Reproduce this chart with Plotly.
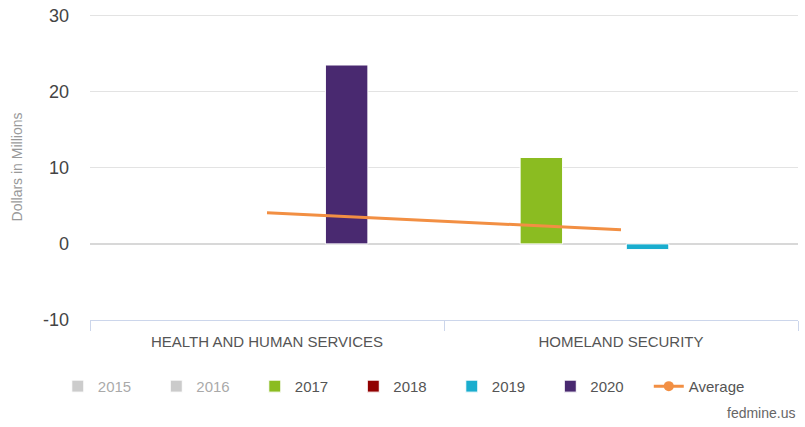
import plotly.graph_objects as go

categories = ["HEALTH AND HUMAN SERVICES", "HOMELAND SECURITY"]
years = ["2015", "2016", "2017", "2018", "2019", "2020"]
values = {
    "2015": [None, None],
    "2016": [None, None],
    "2017": [None, 11.35],
    "2018": [None, None],
    "2019": [None, -0.75],
    "2020": [23.5, None],
}
average = [4.1, 1.85]
y_ticks = [-10, 0, 10, 20, 30]
y_tick_labels = ["-10", "0", "10", "20", "30"]
colors = {
    "2015": "#999999",
    "2016": "#999999",
    "2017": "#8bbc21",
    "2018": "#910000",
    "2019": "#1aadce",
    "2020": "#492970",
}
hidden = {"2015", "2016"}

FONT = "Liberation Sans, Arial, sans-serif"

fig = go.Figure()
for yr in years:
    fig.add_trace(go.Bar(
        x=categories, y=values[yr], name=yr,
        marker=dict(color=colors[yr], line=dict(color="white", width=1)),
        visible="legendonly" if yr in hidden else True,
    ))

fig.add_trace(go.Scatter(
    x=categories, y=average, name="Average", mode="lines",
    line=dict(color="#f28f43", width=3), showlegend=False,
))
fig.add_trace(go.Scatter(
    x=[None], y=[None], name="Average", mode="lines+markers",
    line=dict(color="#f28f43", width=3),
    marker=dict(color="#f28f43", size=10),
))

fig.update_layout(
    width=805, height=427,
    margin=dict(l=90, r=7, t=13.5, b=107),
    paper_bgcolor="white", plot_bgcolor="white",
    font=dict(family=FONT, color="#555555"),
    barmode="group", bargap=0.4, bargroupgap=0.2,
    showlegend=True,
    legend=dict(
        orientation="h", x=-0.0455, xanchor="left", y=-0.163, yanchor="top",
        font=dict(size=15, color="#555555", family=FONT),
        entrywidth=53.5, entrywidthmode="pixels",
        traceorder="normal",
    ),
    xaxis=dict(
        type="category", showgrid=False, showline=True, linecolor="#ccd6eb", linewidth=1,
        ticks="outside", tickson="boundaries", ticklen=10, tickcolor="#ccd6eb",
        tickfont=dict(size=15, color="#555555", family=FONT),
        ticklabelstandoff=8,
        zeroline=False, automargin=False,
    ),
    yaxis=dict(
        range=[-10, 30.2], tickmode="array", tickvals=y_ticks, ticktext=y_tick_labels,
        showgrid=True, gridcolor="#e3e3e3", gridwidth=1,
        zeroline=True, zerolinecolor="#d8d8d8", zerolinewidth=1.5,
        showline=False, ticks="",
        tickfont=dict(size=18, color="#444444", family=FONT),
        ticklabelstandoff=20, ticklabeloverflow="allow", automargin=False,
        title=dict(text="Dollars in Millions", font=dict(size=14, color="#999999", family=FONT), standoff=17),
    ),
    annotations=[dict(
        text="fedmine.us", xref="paper", yref="paper", x=0.9986, y=-0.303,
        xanchor="right", yanchor="middle", showarrow=False,
        font=dict(size=14, color="#666666", family=FONT),
    )],
)

fig.write_html("out.html", config={"displayModeBar": False},
               post_script="document.body.style.margin='0';")
